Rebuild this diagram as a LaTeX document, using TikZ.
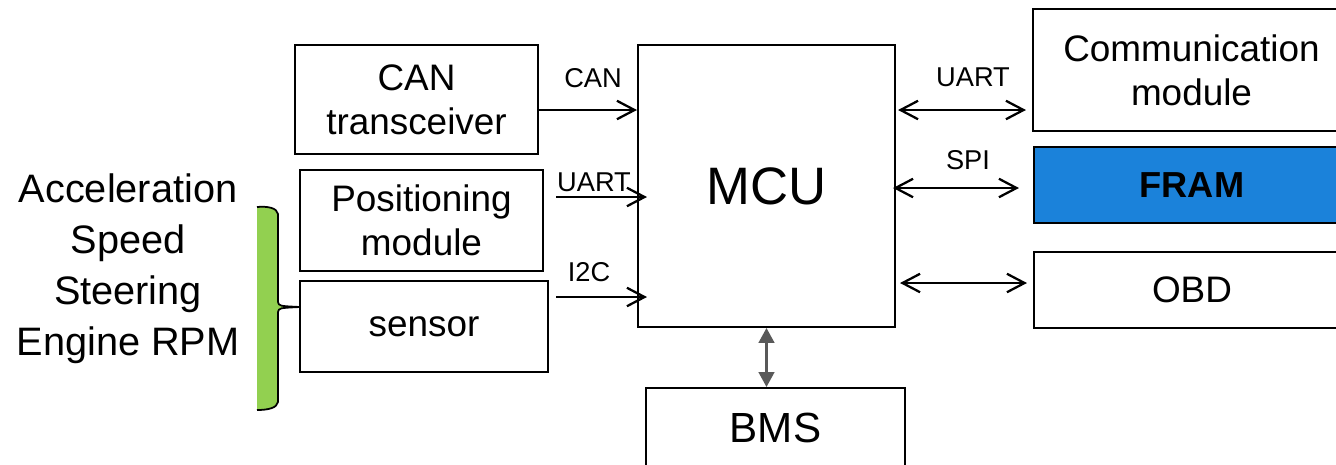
\documentclass[tikz,border=0pt]{standalone}
\usepackage{fontspec}
\setmainfont{Liberation Sans}
\usetikzlibrary{arrows.meta,calc}

\definecolor{framblue}{HTML}{1B82DA}
\definecolor{bracegreen}{HTML}{92D050}
\definecolor{linkgray}{HTML}{595959}

\tikzset{
  box/.style={draw,line width=1.2pt,align=center,inner sep=0pt,font=\fontsize{21}{25}\selectfont},
  lbl/.style={font=\fontsize{15.5}{18}\selectfont,inner sep=0pt},
  link/.style={line width=1.3pt,-{Straight Barb[length=10pt,width=10.5pt]}},
  duplex/.style={line width=1.3pt,{Straight Barb[length=10pt,width=10.5pt]}-{Straight Barb[length=10pt,width=10.5pt]}}
}

\begin{document}
\begin{tikzpicture}[x=0.02cm,y=-0.02cm]
\clip (0,0) rectangle (1336,464);
% blocks
\node[box,minimum width=4.86cm,minimum height=2.18cm] (can) at (416.5,99.5) {CAN\\transceiver};
\node[box,minimum width=4.86cm,minimum height=2.02cm] (pos) at (421.5,220.5) {Positioning\\module};
\node[box,minimum width=4.96cm,minimum height=1.82cm] (sensor) at (424,326.5) {sensor};
\node[box,minimum width=5.14cm,minimum height=5.64cm,font=\fontsize{30}{36}\selectfont] (mcu) at (766.5,186) {MCU};
\node[box,minimum width=5.18cm,minimum height=1.6cm,font=\fontsize{24}{29}\selectfont] (bms) at (775.5,428) {BMS};
\node[box,minimum width=6.34cm,minimum height=2.44cm] (comm) at (1191.5,70) {Communication\\module};
\node[box,fill=framblue,minimum width=6.32cm,minimum height=1.52cm,font=\fontsize{20.6}{25}\selectfont\bfseries] (fram) at (1192,185) {FRAM};
\node[box,minimum width=6.32cm,minimum height=1.52cm] (obd) at (1192,290) {OBD};
\node[align=center,inner sep=0pt,font=\fontsize{22.6}{29}\selectfont] (inputs) at (128,268.5) {Acceleration\\Speed\\Steering\\Engine RPM};
% green brace
\def\bracepath{(257,207) .. controls (268,206) and (277,208) .. (278,214) -- (278,302)
  .. controls (279,306) .. (300,307) .. controls (279,308) .. (278,312) -- (278,402)
  .. controls (277,408) and (268,410) .. (257,410)}
\fill[bracegreen] \bracepath -- cycle;
\draw[line width=1pt] \bracepath;
% buses
\draw[link] (can.east |- 0,110) -- (mcu.west |- 0,110);
\draw[link] ($(pos.east |- 0,197)+(12,0)$) -- ($(mcu.west |- 0,197)+(10,0)$);
\draw[link] ($(sensor.east |- 0,297)+(7,0)$) -- ($(mcu.west |- 0,297)+(10,0)$);
\draw[duplex] ($(mcu.east |- 0,110)+(2,0)$) -- ($(comm.west |- 0,110)+(-6,0)$);
\draw[duplex] ($(mcu.east |- 0,188)+(-3,0)$) -- ($(fram.west |- 0,188)+(-14,0)$);
\draw[duplex] ($(mcu.east |- 0,283)+(4,0)$) -- ($(obd.west |- 0,283)+(-6,0)$);
\draw[linkgray,line width=1.2pt,{Triangle[length=8.5pt,width=9pt]}-{Triangle[length=8.5pt,width=9pt]}] (mcu.south) -- (bms.north -| mcu.south);
% bus labels
\node[lbl] (lcan) at (593,78) {CAN};
\node[lbl] (luart) at (594,182) {UART};
\node[lbl] (li2c) at (589,272) {I2C};
\node[lbl] (ruart) at (973,77) {UART};
\node[lbl] (rspi) at (968,160) {SPI};
\end{tikzpicture}
\end{document}
